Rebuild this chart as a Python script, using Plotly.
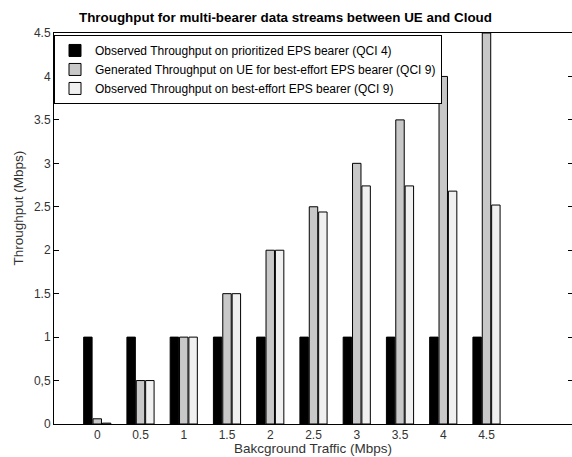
import plotly.graph_objects as go

traffic = [0, 0.5, 1, 1.5, 2, 2.5, 3, 3.5, 4, 4.5]
tick_labels = ["0", "0.5", "1", "1.5", "2", "2.5", "3", "3.5", "4", "4.5"]
prio_observed = [1, 1, 1, 1, 1, 1, 1, 1, 1, 1]
be_generated = [0.06, 0.5, 1, 1.5, 2, 2.5, 3, 3.5, 4, 4.5]
be_observed = [0.01, 0.5, 1, 1.5, 2, 2.44, 2.74, 2.74, 2.68, 2.52]
y_ticks = [0, 0.5, 1, 1.5, 2, 2.5, 3, 3.5, 4, 4.5]
y_tick_labels = ["0", "0,5", "1", "1.5", "2", "2.5", "3", "3.5", "4", "4.5"]

names = [
    "Observed Throughput on prioritized EPS bearer (QCI 4)",
    "Generated Throughput on UE for best-effort EPS bearer (QCI 9)",
    "Observed Throughput on best-effort EPS bearer (QCI 9)",
]
colors = ["#000000", "#c8c8c8", "#f0f0f0"]
series = [prio_observed, be_generated, be_observed]

fig = go.Figure()
for n, c, s in zip(names, colors, series):
    fig.add_trace(go.Bar(
        x=traffic, y=s, name=n,
        marker=dict(color=c, line=dict(color="#000000", width=1)),
    ))

font = "Liberation Sans, Arial, sans-serif"
fig.update_layout(
    width=573, height=457,
    margin=dict(l=54, r=0, t=33, b=33, autoexpand=False),
    paper_bgcolor="white", plot_bgcolor="white",
    barmode="group", bargap=0.35, bargroupgap=0.1,
    font=dict(family=font, size=12, color="#333333"),
    showlegend=True,
    legend=dict(
        x=0.0, y=0.995, xanchor="left", yanchor="top",
        bgcolor="white", bordercolor="#000000", borderwidth=1,
        font=dict(size=12, color="#000000"), tracegroupgap=0,
        itemwidth=30,
    ),
    xaxis=dict(
        range=[-0.5, 5.5], tickvals=traffic, ticktext=tick_labels,
        ticks="", showgrid=False, zeroline=False, automargin=False,
        showline=True, linecolor="#000000", linewidth=1, mirror=True,
        tickfont=dict(size=12),
    ),
    yaxis=dict(
        range=[0, 4.5], tickvals=y_ticks, ticktext=y_tick_labels,
        ticks="inside", ticklen=5, tickcolor="#000000", automargin=False,
        showgrid=False, zeroline=False,
        showline=True, linecolor="#000000", linewidth=1, mirror="ticks",
        tickfont=dict(size=12),
    ),
    annotations=[
        dict(text="<b>Throughput for multi-bearer data streams between UE and Cloud</b>",
             xref="paper", yref="paper", x=0.446, y=1, yshift=16, xanchor="center",
             yanchor="middle", showarrow=False, font=dict(size=13.4, color="#000000")),
        dict(text="Bakcground Traffic (Mbps)", xref="paper", yref="paper",
             x=0.499, y=0, yshift=-24, xanchor="center", yanchor="middle",
             showarrow=False, font=dict(size=13.5, color="#333333")),
        dict(text="Throughput (Mbps)", xref="paper", yref="paper", textangle=-90,
             x=0, xshift=-35, y=0.551, xanchor="center", yanchor="middle",
             showarrow=False, font=dict(size=13.5, color="#333333")),
    ],
)

fig.write_html(
    "out.html",
    config={"displayModeBar": False},
    post_script="document.body.style.margin='0';document.body.style.overflow='hidden';",
)
